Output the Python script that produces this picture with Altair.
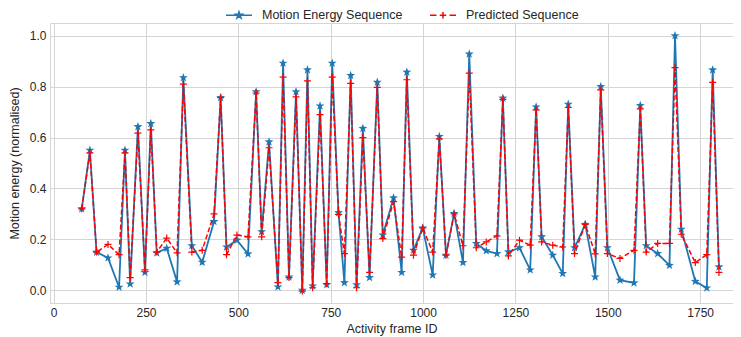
import altair as alt
import pandas as pd

# ---- data ----
frames = [76, 98, 116, 147, 177, 193, 207, 228, 247, 263,
          279, 306, 334, 351, 374, 402, 434, 452, 468, 496,
          526, 548, 563, 583, 607, 621, 637, 656, 673, 687,
          701, 721, 739, 754, 771, 787, 804, 820, 837, 855,
          876, 891, 920, 942, 956, 974, 999, 1026, 1044, 1062,
          1084, 1108, 1125, 1144, 1171, 1200, 1216, 1231, 1261, 1290,
          1306, 1321, 1351, 1378, 1393, 1410, 1439, 1466, 1481, 1499,
          1533, 1571, 1588, 1604, 1635, 1667, 1682, 1699, 1737, 1768,
          1784, 1801]

motion = [0.32, 0.55, 0.15, 0.127, 0.012, 0.55, 0.025, 0.643, 0.07, 0.655,
          0.147, 0.165, 0.033, 0.835, 0.175, 0.11, 0.27, 0.757, 0.17, 0.197,
          0.143, 0.78, 0.23, 0.583, 0.013, 0.892, 0.052, 0.78, 0.0, 0.866,
          0.017, 0.724, 0.022, 0.892, 0.305, 0.03, 0.844, 0.022, 0.636, 0.05,
          0.817, 0.217, 0.363, 0.07, 0.857, 0.157, 0.245, 0.06, 0.604, 0.138,
          0.302, 0.109, 0.928, 0.184, 0.155, 0.144, 0.755, 0.151, 0.167, 0.08,
          0.72, 0.21, 0.138, 0.066, 0.731, 0.167, 0.259, 0.052, 0.80, 0.167,
          0.04, 0.029, 0.726, 0.175, 0.144, 0.098, 1.0, 0.24, 0.035, 0.009,
          0.866, 0.092]

predicted = [0.32, 0.54, 0.15, 0.18, 0.14, 0.54, 0.05, 0.617, 0.08, 0.63,
             0.15, 0.205, 0.147, 0.81, 0.15, 0.157, 0.30, 0.757, 0.14, 0.217,
             0.21, 0.775, 0.21, 0.56, 0.03, 0.837, 0.05, 0.76, -0.003, 0.823,
             0.01, 0.69, 0.026, 0.837, 0.298, 0.144, 0.813, 0.01, 0.60, 0.07,
             0.797, 0.203, 0.348, 0.13, 0.827, 0.138, 0.245, 0.15, 0.595, 0.138,
             0.30, 0.175, 0.853, 0.167, 0.19, 0.214, 0.75, 0.135, 0.197, 0.177,
             0.709, 0.19, 0.177, 0.17, 0.718, 0.144, 0.259, 0.143, 0.787, 0.144,
             0.125, 0.157, 0.713, 0.15, 0.184, 0.184, 0.875, 0.22, 0.109, 0.14,
             0.817, 0.07]

series_names = ["Motion Energy Sequence", "Predicted Sequence"]
series_colors = ["#1f77b4", "#ff0000"]
x_ticks = [0, 250, 500, 750, 1000, 1250, 1500, 1750]
y_ticks = [0.0, 0.2, 0.4, 0.6, 0.8, 1.0]

df = pd.DataFrame({"frame": frames, "motion": motion, "predicted": predicted})

W, H = 683, 280
FONT = "Liberation Sans"
GRID = "#d5d5d5"
TEXT = "#262626"


def star_path(r):
    pts = [(0, -1), (0.235, -0.324), (0.951, -0.309), (0.38, 0.124), (0.588, 0.809),
           (0, 0.4), (-0.588, 0.809), (-0.38, 0.124), (-0.951, -0.309), (-0.235, -0.324)]
    s = "".join(("M" if i == 0 else "L") + f"{x * r:.3f},{y * r:.3f}" for i, (x, y) in enumerate(pts))
    return s + "Z"


STAR = star_path(1.0)
PLUS = "M-1,0L1,0M0,-1L0,1"
LEG_BLUE = "M-1,0L1,0" + star_path(0.27)
LEG_RED = "M-1,0L-0.5,0M-0.25,0L0.25,0M0.5,0L1,0M0,-0.25L0,0.25"

x_enc = alt.X("frame:Q",
              scale=alt.Scale(domain=[-10, 1839], nice=False, zero=False),
              axis=alt.Axis(values=x_ticks, title="Activity frame ID", format="d"))
y_axis = alt.Axis(values=y_ticks, format=".1f", title="Motion energy (normalised)")
y_scale = alt.Scale(domain=[-0.05, 1.05], nice=False, zero=False)

base = alt.Chart(df)

blue_line = base.mark_line(color=series_colors[0], strokeWidth=1.8).encode(
    x=x_enc, y=alt.Y("motion:Q", scale=y_scale, axis=y_axis))
blue_pts = base.mark_point(shape=STAR, filled=True, size=88, color=series_colors[0],
                           opacity=1).encode(
    x=x_enc, y=alt.Y("motion:Q", scale=y_scale, axis=y_axis))
red_line = base.mark_line(color=series_colors[1], strokeWidth=1.5, strokeDash=[5, 2.5]).encode(
    x=x_enc, y=alt.Y("predicted:Q", scale=y_scale, axis=y_axis))
red_pts = base.mark_point(shape=PLUS, filled=False, size=49, color=series_colors[1],
                          strokeWidth=1.2, opacity=1).encode(
    x=x_enc, y=alt.Y("predicted:Q", scale=y_scale, axis=y_axis))

# legend-only layer: its rows have no y value, so nothing is drawn
legend_df = pd.DataFrame({"series": series_names, "frame": [None, None], "v": [None, None]})
leg = alt.Legend(orient="none", legendX=175, legendY=-22, direction="horizontal", title=None,
                 symbolSize=676)
legend_layer = alt.Chart(legend_df).mark_point(opacity=1, size=676, strokeWidth=1.5,
                                               filled=False).encode(
    x=x_enc,
    y=alt.Y("v:Q", scale=y_scale, axis=y_axis),
    color=alt.Color("series:N", scale=alt.Scale(domain=series_names, range=series_colors),
                    legend=leg),
    shape=alt.Shape("series:N", scale=alt.Scale(domain=series_names, range=[LEG_BLUE, LEG_RED]),
                    legend=leg),
)

chart = alt.layer(blue_line, blue_pts, red_line, red_pts, legend_layer).properties(
    width=W, height=H,
    autosize=alt.AutoSizeParams(type="none"),
    padding={"left": 42, "top": 15, "right": 0, "bottom": 34},
).configure_view(stroke=GRID).configure_axis(
    labelFont=FONT, titleFont=FONT, labelFontSize=12, titleFontSize=12.5,
    labelColor=TEXT, titleColor=TEXT, titleFontWeight="normal",
    gridColor=GRID, gridWidth=1, domain=False,
    ticks=False, labelPadding=4,
).configure_axisX(titlePadding=4).configure_axisY(titlePadding=8).configure_legend(
    labelFont=FONT, labelFontSize=12.5, labelColor=TEXT, symbolStrokeWidth=1.5,
    symbolSize=676, labelOffset=9, columnPadding=24, padding=0,
)

chart.save("out.html", embed_options={"renderer": "svg", "actions": False})
